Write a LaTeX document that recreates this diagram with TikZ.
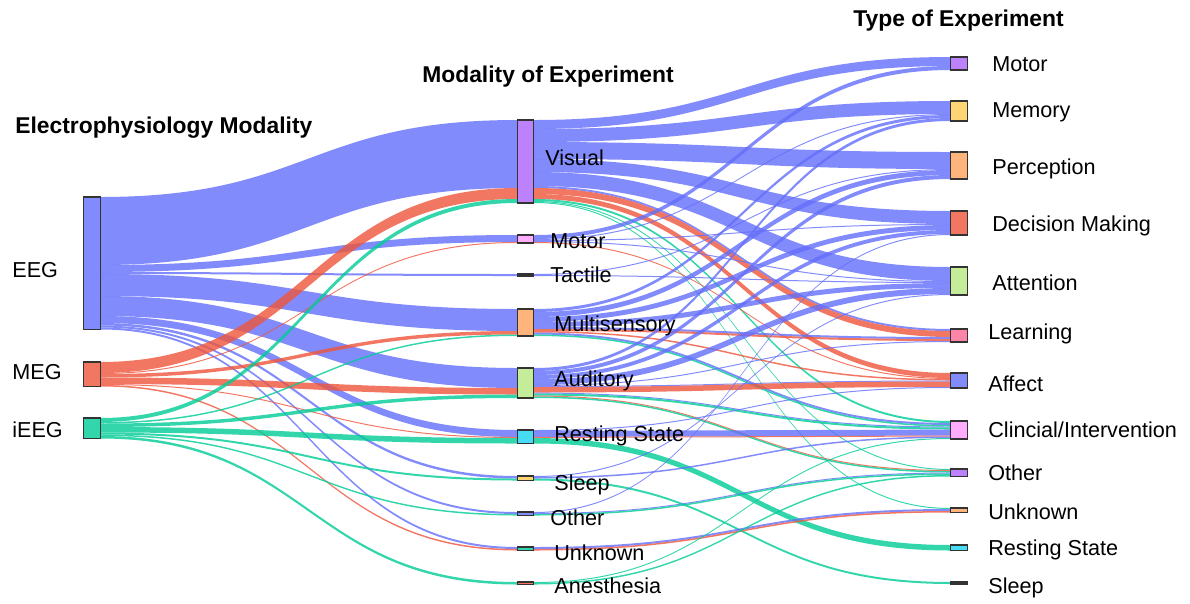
\documentclass[tikz,border=0pt]{standalone}
\usepackage{fontspec}
\setmainfont{Liberation Sans}
\usetikzlibrary{calc,backgrounds}

\definecolor{plblue}{HTML}{636EFA}
\definecolor{plred}{HTML}{EF553B}
\definecolor{plgreen}{HTML}{00CC96}
\definecolor{plpurple}{HTML}{AB63FA}
\definecolor{plorange}{HTML}{FFA15A}
\definecolor{plcyan}{HTML}{19D3F3}
\definecolor{plpink}{HTML}{FF6692}
\definecolor{pllime}{HTML}{B6E880}
\definecolor{plmagenta}{HTML}{FF97FF}
\definecolor{plyellow}{HTML}{FECB52}

\tikzset{
  box/.style={draw=black!80, line width=0.7pt, inner sep=0pt, outer sep=0pt, minimum width=0.33cm, anchor=north},
  lab/.style={anchor=base west, inner sep=0pt, font=\fontsize{12.3}{14}\selectfont},
  ttl/.style={anchor=base west, inner sep=0pt, font=\fontsize{13}{15}\selectfont\bfseries},
  eegflow/.style={fill=plblue, fill opacity=0.8},
  megflow/.style={fill=plred, fill opacity=0.8},
  ieegflow/.style={fill=plgreen, fill opacity=0.8}
}

% band from node #1 to node #2, width #3 (px), style #4
\newcommand\flow[4]{%
  \pgfmathsetmacro\ya{\csname skout#1\endcsname}%
  \pgfmathsetmacro\yb{\csname skin#2\endcsname}%
  \pgfmathsetmacro\yc{\ya+#3}%
  \pgfmathsetmacro\yd{\yb+#3}%
  \fill[#4] ($(#1.north east)+(0,\ya)$) .. controls +(208.5,0) and +(-208.5,0) .. ($(#2.north west)+(0,\yb)$)
    -- ($(#2.north west)+(0,\yd)$) .. controls +(-208.5,0) and +(208.5,0) .. ($(#1.north east)+(0,\yc)$) -- cycle;
  \expandafter\xdef\csname skout#1\endcsname{\yc}%
  \expandafter\xdef\csname skin#2\endcsname{\yd}%
}

\begin{document}
\begin{tikzpicture}[x=0.02cm,y=-0.02cm]
	\useasboundingbox (0,0) rectangle (1190,603);
	\foreach \n in {eeg,meg,ieeg,visual,motor,tactile,multi,auditory,resting,sleep,other,unknown,anesth,
	  tmotor,memory,percept,decision,attention,learning,affect,clinical,tother,tunknown,tresting,tsleep}
	  {\expandafter\xdef\csname skout\n\endcsname{0}\expandafter\xdef\csname skin\n\endcsname{0}}

	% modality
	\node[box, fill=plblue!80!white, minimum height=132.5*0.02cm] (eeg) at (92,197) {};
	\node[box, fill=plred!80!white, minimum height=24.5*0.02cm] (meg) at (92,362) {};
	\node[box, fill=plgreen!80!white, minimum height=20.5*0.02cm] (ieeg) at (92,418) {};
	% modality of experiment
	\node[box, fill=plpurple!80!white, minimum height=83*0.02cm] (visual) at (525.5,120) {};
	\node[box, fill=plmagenta!80!white, minimum height=8*0.02cm] (motor) at (525.5,235) {};
	\node[box, fill=plpink!80!black, minimum height=2*0.02cm] (tactile) at (525.5,274) {};
	\node[box, fill=plorange!80!white, minimum height=27*0.02cm] (multi) at (525.5,309) {};
	\node[box, fill=pllime!80!white, minimum height=30*0.02cm] (auditory) at (525.5,368) {};
	\node[box, fill=plcyan!80!white, minimum height=13.5*0.02cm] (resting) at (525.5,430) {};
	\node[box, fill=plyellow!80!white, minimum height=4.5*0.02cm] (sleep) at (525.5,476) {};
	\node[box, fill=plblue!80!white, minimum height=3.5*0.02cm] (other) at (525.5,512) {};
	\node[box, fill=plgreen!80!white, minimum height=3.5*0.02cm] (unknown) at (525.5,547) {};
	\node[box, fill=plred!80!white, minimum height=2.5*0.02cm] (anesth) at (525.5,582) {};
	% type of experiment
	\node[box, fill=plpurple!80!white, minimum height=13*0.02cm] (tmotor) at (959,57) {};
	\node[box, fill=plyellow!80!white, minimum height=20*0.02cm] (memory) at (959,101) {};
	\node[box, fill=plorange!80!white, minimum height=27*0.02cm] (percept) at (959,152) {};
	\node[box, fill=plred!80!white, minimum height=24*0.02cm] (decision) at (959,211) {};
	\node[box, fill=pllime!80!white, minimum height=28*0.02cm] (attention) at (959,267) {};
	\node[box, fill=plpink!80!white, minimum height=13*0.02cm] (learning) at (959,329) {};
	\node[box, fill=plblue!80!white, minimum height=15*0.02cm] (affect) at (959,373) {};
	\node[box, fill=plmagenta!80!white, minimum height=18*0.02cm] (clinical) at (959,421) {};
	\node[box, fill=plpurple!80!white, minimum height=7.5*0.02cm] (tother) at (959,469) {};
	\node[box, fill=plorange!80!white, minimum height=4.5*0.02cm] (tunknown) at (959,508) {};
	\node[box, fill=plcyan!80!white, minimum height=5.5*0.02cm] (tresting) at (959,545) {};
	\node[box, fill=plgreen!80!black, minimum height=2*0.02cm] (tsleep) at (959,582) {};

	\begin{pgfonlayer}{background}
	\flow{eeg}{visual}{68}{eegflow}
	\flow{eeg}{motor}{7}{eegflow}
	\flow{eeg}{tactile}{2}{eegflow}
	\flow{eeg}{multi}{22}{eegflow}
	\flow{eeg}{auditory}{20}{eegflow}
	\flow{eeg}{resting}{7}{eegflow}
	\flow{eeg}{sleep}{2.5}{eegflow}
	\flow{eeg}{other}{2}{eegflow}
	\flow{eeg}{unknown}{2}{eegflow}
	\flow{meg}{visual}{11}{megflow}
	\flow{meg}{motor}{1}{megflow}
	\flow{meg}{multi}{3.5}{megflow}
	\flow{meg}{auditory}{6.5}{megflow}
	\flow{meg}{resting}{1}{megflow}
	\flow{meg}{unknown}{1.5}{megflow}
	\flow{ieeg}{visual}{4}{ieegflow}
	\flow{ieeg}{multi}{1.5}{ieegflow}
	\flow{ieeg}{auditory}{3.5}{ieegflow}
	\flow{ieeg}{resting}{5.5}{ieegflow}
	\flow{ieeg}{sleep}{2}{ieegflow}
	\flow{ieeg}{other}{1.5}{ieegflow}
	\flow{ieeg}{anesth}{2.5}{ieegflow}
	%
	\flow{visual}{tmotor}{9}{eegflow}
	\flow{visual}{memory}{13}{eegflow}
	\flow{visual}{percept}{17}{eegflow}
	\flow{visual}{decision}{13}{eegflow}
	\flow{visual}{attention}{14}{eegflow}
	\flow{visual}{learning}{2}{eegflow}
	\flow{visual}{learning}{6}{megflow}
	\flow{visual}{affect}{5}{megflow}
	\flow{visual}{clinical}{2}{ieegflow}
	\flow{visual}{tother}{1}{ieegflow}
	\flow{visual}{tunknown}{1}{ieegflow}
	\flow{motor}{tmotor}{4}{eegflow}
	\flow{motor}{memory}{1}{eegflow}
	\flow{motor}{decision}{1}{eegflow}
	\flow{motor}{attention}{1}{eegflow}
	\flow{motor}{affect}{1}{megflow}
	\flow{tactile}{percept}{1}{eegflow}
	\flow{tactile}{attention}{1}{eegflow}
	\flow{multi}{memory}{3}{eegflow}
	\flow{multi}{percept}{5}{eegflow}
	\flow{multi}{decision}{5}{eegflow}
	\flow{multi}{attention}{5}{eegflow}
	\flow{multi}{learning}{2}{eegflow}
	\flow{multi}{learning}{2}{megflow}
	\flow{multi}{affect}{1.5}{megflow}
	\flow{multi}{clinical}{2}{eegflow}
	\flow{multi}{clinical}{1.5}{ieegflow}
	\flow{auditory}{memory}{3}{eegflow}
	\flow{auditory}{percept}{4}{eegflow}
	\flow{auditory}{decision}{4}{eegflow}
	\flow{auditory}{attention}{6}{eegflow}
	\flow{auditory}{learning}{1}{eegflow}
	\flow{auditory}{affect}{1}{eegflow}
	\flow{auditory}{affect}{5.5}{megflow}
	\flow{auditory}{clinical}{1}{eegflow}
	\flow{auditory}{clinical}{2}{ieegflow}
	\flow{auditory}{tother}{1}{megflow}
	\flow{auditory}{tother}{1.5}{ieegflow}
	\flow{resting}{affect}{1}{eegflow}
	\flow{resting}{clinical}{6}{eegflow}
	\flow{resting}{clinical}{1}{megflow}
	\flow{resting}{tresting}{5.5}{ieegflow}
	\flow{sleep}{attention}{1}{eegflow}
	\flow{sleep}{clinical}{1.5}{eegflow}
	\flow{sleep}{tsleep}{2}{ieegflow}
	\flow{other}{decision}{1}{eegflow}
	\flow{other}{tother}{1}{eegflow}
	\flow{other}{tother}{1.5}{ieegflow}
	\flow{unknown}{tunknown}{2}{eegflow}
	\flow{unknown}{tunknown}{1.5}{megflow}
	\flow{anesth}{clinical}{1}{ieegflow}
	\flow{anesth}{tother}{1.5}{ieegflow}
	\end{pgfonlayer}

	\node[ttl] (tleft) at (15,133) {Electrophysiology Modality};
	\node[ttl] (tmid) at (422,82) {Modality of Experiment};
	\node[ttl] (tright) at (853,26) {Type of Experiment};

	\node[lab] (leeg) at (12,277) {EEG};
	\node[lab] (lmeg) at (12,379) {MEG};
	\node[lab] (lieeg) at (12,437) {iEEG};

	\node[lab] (lvisual) at (545,165) {Visual};
	\node[lab] (lmotor) at (550,248) {Motor};
	\node[lab] (ltactile) at (550,282.5) {Tactile};
	\node[lab] (lmulti) at (554,331) {Multisensory};
	\node[lab] (lauditory) at (554,386.5) {Auditory};
	\node[lab] (lresting) at (554,441.5) {Resting State};
	\node[lab] (lsleep) at (554,490) {Sleep};
	\node[lab] (lother) at (550,525) {Other};
	\node[lab] (lunknown) at (554,560.5) {Unknown};
	\node[lab] (lanesth) at (554,593) {Anesthesia};

	\node[lab] (ltmotor) at (992,71.5) {Motor};
	\node[lab] (lmemory) at (992,117) {Memory};
	\node[lab] (lpercept) at (992,174) {Perception};
	\node[lab] (ldecision) at (992,231.5) {Decision Making};
	\node[lab] (lattention) at (992,290.5) {Attention};
	\node[lab] (llearning) at (988,339) {Learning};
	\node[lab] (laffect) at (988,391) {Affect};
	\node[lab] (lclinical) at (988,437.5) {Clincial/Intervention};
	\node[lab] (ltother) at (988,480) {Other};
	\node[lab] (ltunknown) at (988,519) {Unknown};
	\node[lab] (ltresting) at (988,555) {Resting State};
	\node[lab] (ltsleep) at (988,593) {Sleep};
\end{tikzpicture}
\end{document}
